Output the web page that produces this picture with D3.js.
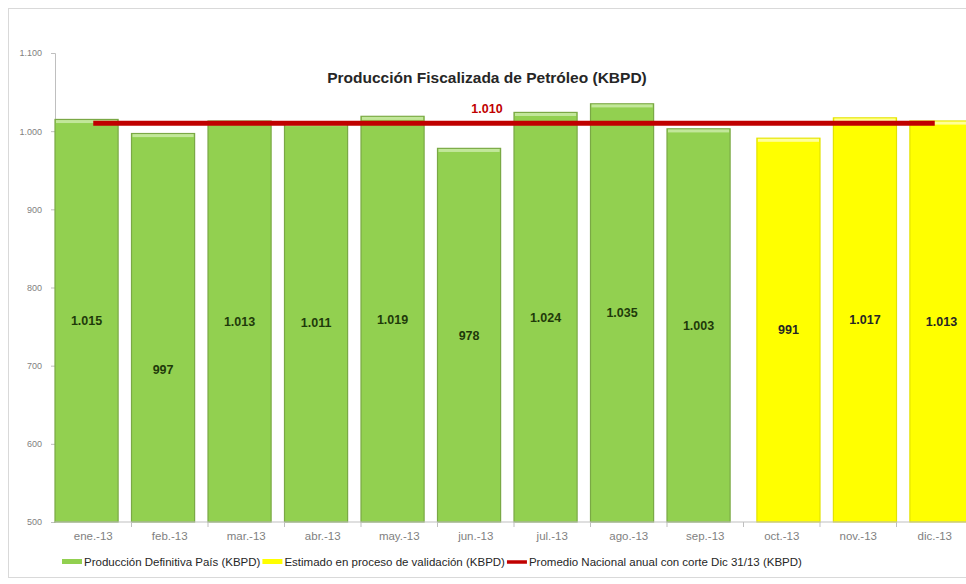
<!DOCTYPE html>
<html>
<head>
<meta charset="utf-8">
<script src="https://cdn.jsdelivr.net/npm/d3@7"></script>
<style>
  body { margin: 0; background: #fff; }
  svg { display: block; font-family: "Liberation Sans", Arial, sans-serif; }
</style>
</head>
<body>
<div id="chart"></div>
<script>
// data
var months = ["ene.-13", "feb.-13", "mar.-13", "abr.-13", "may.-13", "jun.-13",
              "jul.-13", "ago.-13", "sep.-13", "oct.-13", "nov.-13", "dic.-13"];
var definitiva = [1015, 997, 1013, 1011, 1019, 978, 1024, 1035, 1003, null, null, null];
var estimado = [null, null, null, null, null, null, null, null, null, 991, 1017, 1013];
var promedio = 1010;
var yTicks = [500, 600, 700, 800, 900, 1000, 1100];

var seriesNames = ["Producción Definitiva País (KBPD)",
                   "Estimado en proceso de validación (KBPD)",
                   "Promedio Nacional anual con corte Dic 31/13 (KBPD)"];

// the feb label was moved down by hand in the original
var labelShift = { "feb.-13": 42 };

var W = 966, H = 584;
var plotLeft = 55, plotTop = 53, plotBottom = 522;

var es = d3.formatLocale({ decimal: ",", thousands: ".", grouping: [3], currency: ["$", ""] });
var fmt = es.format(",d");

var svg = d3.select("#chart").append("svg")
  .attr("width", W).attr("height", H);

// frame
svg.append("rect")
  .attr("x", 8.5).attr("y", 8.5)
  .attr("width", 975).attr("height", 569)
  .attr("fill", "none").attr("stroke", "#d9d9d9");

var x = d3.scaleBand().domain(months).range([plotLeft, plotLeft + 12 * 76.5]);
var y = d3.scaleLinear().domain([500, 1100]).range([plotBottom, plotTop]);

var barW = x.bandwidth() * 0.825;
var estOff = x.bandwidth() - barW;

// title
svg.append("text")
  .attr("x", 487).attr("y", 83)
  .attr("text-anchor", "middle")
  .attr("font-size", 15.5).attr("font-weight", "bold")
  .attr("fill", "#262626")
  .text("Producción Fiscalizada de Petróleo (KBPD)");

// y axis
var gy = svg.append("g")
  .attr("transform", "translate(" + plotLeft + ",0)")
  .call(d3.axisLeft(y).tickValues(yTicks).tickFormat(fmt).tickSize(4).tickPadding(9));
gy.select(".domain").attr("stroke", "#bfbfbf");
gy.selectAll(".tick line").attr("stroke", "#bfbfbf");
gy.selectAll(".tick text").attr("font-size", 9).attr("fill", "#7f7f7f")
  .attr("font-family", "Liberation Sans, Arial, sans-serif");

// bars
function drawBars(vals, off, fill, edge, light, cls) {
  var data = months.map(function(m, i) { return { m: m, v: vals[i] }; })
    .filter(function(d) { return d.v != null; });
  var g = svg.append("g").attr("class", cls);
  g.selectAll("rect.bar").data(data).enter().append("rect")
    .attr("class", "bar")
    .attr("x", function(d) { return x(d.m) + off; })
    .attr("y", function(d) { return y(d.v); })
    .attr("width", barW)
    .attr("height", function(d) { return y(500) - y(d.v); })
    .attr("fill", fill)
    .attr("stroke", edge).attr("stroke-width", 1.2);
  g.selectAll("rect.hl").data(data).enter().append("rect")
    .attr("class", "hl")
    .attr("x", function(d) { return x(d.m) + off + 1; })
    .attr("y", function(d) { return y(d.v) + 0.6; })
    .attr("width", barW - 2)
    .attr("height", 3)
    .attr("fill", light);
  return data;
}

var defData = drawBars(definitiva, 0, "#92d050", "#7aa845", "#c2e79a", "def");
var estData = drawBars(estimado, estOff, "#ffff00", "#e3e300", "#ffff99", "est");

// x axis
var gx = svg.append("g")
  .attr("transform", "translate(0," + plotBottom + ")");
gx.append("line")
  .attr("x1", plotLeft).attr("x2", W + 10)
  .attr("stroke", "#bfbfbf");
gx.selectAll("line.tk").data(months.slice(1)).enter().append("line")
  .attr("class", "tk")
  .attr("x1", function(d) { return x(d); }).attr("x2", function(d) { return x(d); })
  .attr("y1", 0).attr("y2", 5)
  .attr("stroke", "#bfbfbf");
gx.selectAll("text").data(months).enter().append("text")
  .attr("x", function(d) { return x(d) + x.bandwidth() / 2; })
  .attr("y", 18)
  .attr("text-anchor", "middle")
  .attr("font-size", 11.5).attr("fill", "#7f7f7f")
  .text(function(d) { return d; });

// value labels
function drawLabels(data, off, color) {
  svg.append("g").selectAll("text").data(data).enter().append("text")
    .attr("x", function(d) { return x(d.m) + off + barW / 2; })
    .attr("y", function(d) { return (y(d.v) + y(500)) / 2 + (labelShift[d.m] || 0); })
    .attr("dy", "0.35em")
    .attr("text-anchor", "middle")
    .attr("font-size", 12.5).attr("font-weight", "bold")
    .attr("fill", color)
    .text(function(d) { return fmt(d.v); });
}
drawLabels(defData, 0, "#1f3a0a");
drawLabels(estData, estOff, "#262626");

// average line
var x0 = x(months[0]) + x.bandwidth() / 2;
var x1 = x(months[months.length - 1]) + x.bandwidth() / 2;
svg.append("line")
  .attr("x1", x0).attr("x2", x1)
  .attr("y1", y(promedio)).attr("y2", y(promedio))
  .attr("stroke", "#c00000").attr("stroke-width", 5);
svg.append("text")
  .attr("x", 487).attr("y", y(promedio) - 10)
  .attr("text-anchor", "middle")
  .attr("font-size", 12.5).attr("font-weight", "bold")
  .attr("fill", "#c00000")
  .text(fmt(promedio));

// legend
var lg = svg.append("g").attr("transform", "translate(0,562)");
var lx = 62;
seriesNames.forEach(function(name, i) {
  if (i < 2) {
    lg.append("rect")
      .attr("x", lx).attr("y", -3).attr("width", 20).attr("height", 5)
      .attr("fill", i === 0 ? "#92d050" : "#ffff00");
  } else {
    lg.append("line")
      .attr("x1", lx).attr("x2", lx + 20)
      .attr("stroke", "#c00000").attr("stroke-width", 3.5);
  }
  var t = lg.append("text")
    .attr("x", lx + 22).attr("dy", "0.35em")
    .attr("font-size", 11.5).attr("fill", "#262626")
    .text(name);
  lx += 22 + t.node().getComputedTextLength() + 2;
});
</script>
</body>
</html>
